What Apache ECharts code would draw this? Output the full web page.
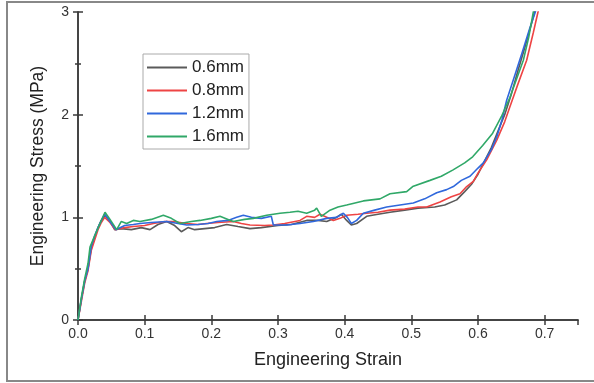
<!DOCTYPE html>
<html>
<head>
<meta charset="utf-8">
<script src="https://cdn.jsdelivr.net/npm/echarts@6/dist/echarts.min.js"></script>
<style>
  html, body { margin: 0; padding: 0; background: #fff; }
  #chart { width: 594px; height: 383px; }
</style>
</head>
<body>
<div id="chart"></div>
<script>
// [strain, stress] pairs
const s06 = [[0,0],[0.005,0.2],[0.01,0.38],[0.015,0.5],[0.02,0.7],[0.025,0.8],[0.03,0.9],[0.035,0.97],[0.041,1.02],[0.048,0.96],[0.055,0.88],[0.065,0.89],[0.08,0.88],[0.095,0.9],[0.108,0.88],[0.12,0.93],[0.133,0.96],[0.145,0.92],[0.155,0.86],[0.165,0.9],[0.175,0.88],[0.19,0.89],[0.205,0.9],[0.223,0.93],[0.24,0.91],[0.258,0.89],[0.275,0.9],[0.3,0.92],[0.32,0.93],[0.343,0.97],[0.36,0.97],[0.373,0.96],[0.385,0.99],[0.395,1.03],[0.403,0.97],[0.41,0.925],[0.418,0.94],[0.433,1.01],[0.45,1.03],[0.468,1.05],[0.49,1.07],[0.51,1.09],[0.535,1.1],[0.55,1.12],[0.568,1.17],[0.58,1.25],[0.59,1.32],[0.6,1.42],[0.61,1.55],[0.62,1.68],[0.63,1.84],[0.64,2.0],[0.65,2.2],[0.66,2.43],[0.67,2.65],[0.68,2.88],[0.687,3.05]];
const s08 = [[0,0],[0.005,0.18],[0.01,0.36],[0.015,0.48],[0.02,0.68],[0.025,0.78],[0.03,0.88],[0.035,0.95],[0.04,1.0],[0.048,0.95],[0.056,0.88],[0.07,0.9],[0.083,0.91],[0.1,0.92],[0.113,0.94],[0.13,0.96],[0.143,0.96],[0.163,0.94],[0.18,0.93],[0.193,0.94],[0.21,0.95],[0.233,0.96],[0.245,0.94],[0.258,0.925],[0.28,0.92],[0.293,0.925],[0.31,0.94],[0.333,0.97],[0.343,1.01],[0.355,1.0],[0.363,1.03],[0.373,1.0],[0.383,0.97],[0.393,0.99],[0.403,1.02],[0.42,1.03],[0.433,1.04],[0.45,1.05],[0.468,1.07],[0.49,1.08],[0.51,1.1],[0.523,1.1],[0.543,1.15],[0.56,1.2],[0.573,1.23],[0.583,1.3],[0.593,1.35],[0.6,1.43],[0.613,1.56],[0.628,1.75],[0.64,1.93],[0.648,2.08],[0.66,2.3],[0.673,2.53],[0.683,2.8],[0.69,3.0],[0.693,3.1]];
const s12 = [[0,0],[0.005,0.2],[0.01,0.38],[0.015,0.5],[0.02,0.72],[0.025,0.82],[0.03,0.9],[0.035,0.97],[0.04,1.03],[0.048,0.96],[0.057,0.88],[0.07,0.92],[0.083,0.93],[0.093,0.94],[0.11,0.95],[0.133,0.96],[0.15,0.94],[0.163,0.925],[0.18,0.93],[0.195,0.94],[0.208,0.96],[0.225,0.97],[0.238,1.0],[0.248,1.02],[0.26,1.0],[0.275,0.99],[0.29,1.01],[0.293,0.925],[0.313,0.925],[0.333,0.94],[0.353,0.96],[0.373,0.99],[0.388,1.0],[0.398,1.04],[0.404,1.0],[0.41,0.94],[0.418,0.97],[0.428,1.04],[0.445,1.07],[0.463,1.1],[0.483,1.12],[0.503,1.14],[0.52,1.18],[0.538,1.24],[0.553,1.27],[0.563,1.3],[0.575,1.36],[0.588,1.4],[0.6,1.48],[0.608,1.53],[0.62,1.66],[0.628,1.78],[0.636,1.95],[0.643,2.14],[0.655,2.38],[0.667,2.62],[0.678,2.85],[0.686,3.0],[0.69,3.1]];
const s16 = [[0,0],[0.005,0.22],[0.01,0.4],[0.015,0.55],[0.018,0.71],[0.025,0.82],[0.033,0.94],[0.0405,1.05],[0.048,0.98],[0.058,0.88],[0.065,0.96],[0.073,0.94],[0.083,0.97],[0.093,0.96],[0.11,0.98],[0.128,1.02],[0.14,0.99],[0.153,0.94],[0.17,0.96],[0.183,0.97],[0.2,0.99],[0.213,1.01],[0.225,0.98],[0.233,0.96],[0.25,0.98],[0.263,0.99],[0.283,1.02],[0.303,1.04],[0.318,1.05],[0.33,1.06],[0.343,1.04],[0.355,1.07],[0.358,1.09],[0.365,1.01],[0.378,1.07],[0.39,1.1],[0.403,1.12],[0.428,1.16],[0.453,1.18],[0.468,1.23],[0.493,1.25],[0.502,1.3],[0.528,1.36],[0.545,1.4],[0.562,1.46],[0.58,1.53],[0.592,1.59],[0.607,1.7],[0.622,1.82],[0.635,1.98],[0.648,2.17],[0.658,2.35],[0.668,2.53],[0.676,2.75],[0.683,3.0],[0.686,3.1]];

const names = ["0.6mm", "0.8mm", "1.2mm", "1.6mm"];
const colors = ["#5a5a5a", "#ee4444", "#3068dc", "#30a868"];
const curves = [s06, s08, s12, s16];

const chart = echarts.init(document.getElementById("chart"));
const font = "Liberation Sans, Arial, sans-serif";
const axisCol = "#3a3a3a";

chart.setOption({
  animation: false,
  textStyle: { fontFamily: font },
  grid: { left: 78, right: 16, top: 12, bottom: 63 },
  legend: {
    orient: "vertical",
    left: 143,
    top: 54,
    data: names,
    itemWidth: 40,
    itemHeight: 14,
    itemGap: 6,
    padding: [5, 5, 4, 3],
    borderColor: "#aaa",
    borderWidth: 1,
    itemStyle: { opacity: 0 },
    lineStyle: { width: 2 },
    textStyle: { fontSize: 17, color: "#222", fontFamily: font },
  },
  xAxis: [
    {
      type: "value",
      min: 0,
      max: 0.75,
      interval: 0.1,
      name: "Engineering Strain",
      nameLocation: "middle",
      nameGap: 31,
      nameTextStyle: { fontSize: 18, color: "#222" },
      splitLine: { show: false },
      axisLine: { lineStyle: { color: axisCol, width: 1.5 } },
      axisTick: { inside: true, length: 5, lineStyle: { color: axisCol, width: 1.5 } },
      axisLabel: {
        fontSize: 14,
        color: "#333",
        margin: 7,
        showMaxLabel: false,
        formatter: (v) => v.toFixed(1),
      },
    },
    {
      type: "value",
      position: "top",
      min: 0,
      max: 0.75,
      interval: 0.1,
      splitLine: { show: false },
      axisLine: { lineStyle: { color: axisCol, width: 1.5 } },
      axisTick: { inside: true, length: 5, lineStyle: { color: axisCol, width: 1.5 } },
      axisLabel: { show: false },
    },
  ],
  yAxis: [
    {
      type: "value",
      min: 0,
      max: 3,
      interval: 1,
      name: "Engineering Stress (MPa)",
      nameLocation: "middle",
      nameGap: 31,
      nameTextStyle: { fontSize: 17.5, color: "#222" },
      splitLine: { show: false },
      axisLine: { show: true, lineStyle: { color: axisCol, width: 1.5 } },
      axisTick: { inside: true, length: 5, lineStyle: { color: axisCol, width: 1.5 } },
      minorTick: { show: true, splitNumber: 2, length: 3, lineStyle: { color: axisCol, width: 1.5 } },
      axisLabel: { fontSize: 14, color: "#333", margin: 9 },
    },
    {
      type: "value",
      position: "right",
      min: 0,
      max: 3,
      interval: 1,
      splitLine: { show: false },
      axisLine: { show: true, lineStyle: { color: axisCol, width: 1.5 } },
      axisTick: { inside: true, length: 5, lineStyle: { color: axisCol, width: 1.5 } },
      minorTick: { show: true, splitNumber: 2, length: 3, lineStyle: { color: axisCol, width: 1.5 } },
      axisLabel: { show: false },
    },
  ],
  series: curves.map((d, i) => ({
    name: names[i],
    type: "line",
    data: d,
    symbol: "none",
    clip: true,
    color: colors[i],
    lineStyle: { width: 1.6, color: colors[i] },
  })),
  graphic: [
    {
      type: "polyline",
      shape: { points: [[594, 2], [7, 2], [7, 381], [594, 381]] },
      style: { fill: "none", stroke: "#888", lineWidth: 2 },
      silent: true,
    },
  ],
});
</script>
</body>
</html>
